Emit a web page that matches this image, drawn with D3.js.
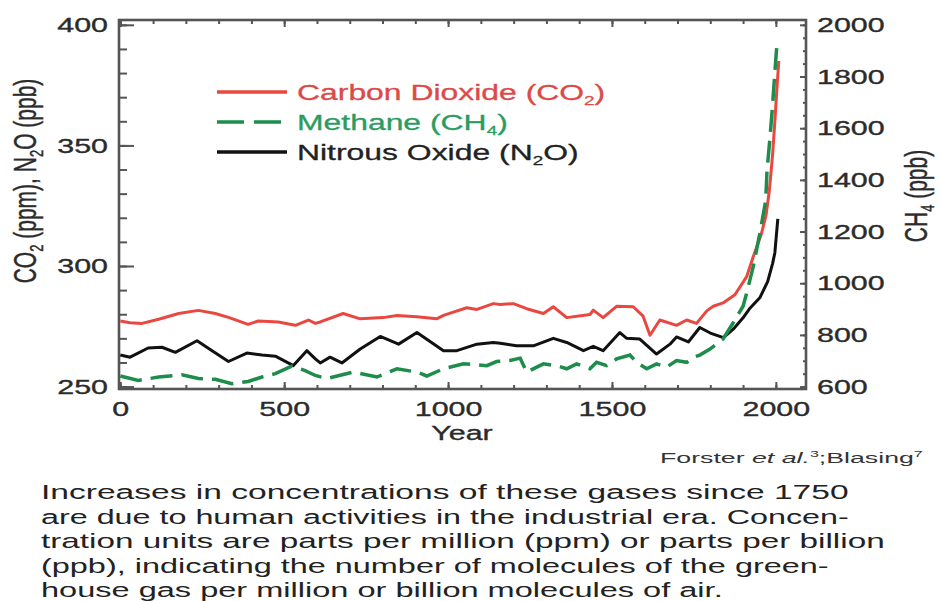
<!DOCTYPE html>
<html><head><meta charset="utf-8">
<script src="https://cdn.jsdelivr.net/npm/d3@7"></script>
<style>
body{margin:0;background:#fff}
svg{display:block}
text{font-family:"Liberation Sans",Arial,Helvetica,sans-serif}
</style>
</head><body>
<svg id="c" width="940" height="601"></svg>
<script>
// ---------------- data ----------------
const co2Years = [0,30,66,117,178,238,290,330,390,421,482,534,574,595,610,680,732,802,844,905,965,986,1016,1057,1088,1138,1159,1199,1240,1291,1321,1362,1433,1443,1473,1514,1565,1595,1616,1646,1697,1728,1758,1790,1809,1839,1875,1911,1931,1956,1970,1980,1990,1997,2003,2009];
const co2Values = [277.2,276.5,276.2,277.9,280.3,281.6,280.3,278.7,275.8,277.2,276.8,275.4,277.6,276.2,276.8,280.3,278.1,278.6,279.5,279.0,278.1,279.5,280.9,282.7,282.0,284.4,284.0,284.4,282.3,280.3,283.1,278.6,279.9,281.7,278.6,283.3,283.1,279.2,271.3,277.6,275.4,277.6,276.2,281.5,283.3,284.7,288.1,295.6,303.8,313.4,321,331,346,360,373,385];

const n2oYears = [0,30,85,127,168,234,280,330,386,432,473,528,569,595,610,640,676,732,793,849,905,986,1027,1088,1138,1159,1209,1260,1321,1362,1413,1443,1473,1524,1545,1585,1636,1677,1697,1733,1768,1800,1840,1870,1900,1921,1951,1975,1990,1997,2006];
const n2oValues = [263.1,262.2,266.0,266.3,264.2,269.0,264.9,260.4,263.9,263.1,262.6,258.7,264.9,261.5,259.8,262.2,259.8,265.6,270.8,267.6,272.4,264.9,264.9,267.6,268.3,268.0,266.9,266.9,270.0,268.3,264.9,266.7,264.9,272.4,270.0,269.7,263.5,267.6,270.6,268.5,274.5,272.2,270.3,273.8,278.5,282.5,286.8,293.5,301,305.5,319.5];

const ch4Years = [0,55,117,188,238,290,340,390,432,473,523,564,595,630,711,783,844,905,935,986,1047,1118,1148,1189,1220,1240,1291,1331,1362,1392,1433,1453,1484,1514,1555,1575,1606,1636,1667,1697,1728,1748,1768,1799,1839,1870,1900,1911,1931,1951,1969,1973,1982,1990,1997,2004];
const ch4Values = [641,624,637,646,631,628,611,620,637,650,679,662,643,631,656,637,669,656,641,669,688,681,697,701,710,656,688,681,669,688,669,694,681,707,722,694,669,688,675,701,694,714,722,745,784,847,911,962,1064,1192,1319,1434,1561,1689,1816,1937];

const xTicks = [0,500,1000,1500,2000];
const leftTicks = [250,300,350,400];
const rightTicks = [600,800,1000,1200,1400,1600,1800,2000];

const legendParts = [
  ["Carbon Dioxide (CO","2",")"],
  ["Methane (CH","4",")"],
  ["Nitrous Oxide (N","2","O)"]
];
const xTitle = "Year";
const leftTitleParts = ["CO","2"," (ppm), N","2","O (ppb)"];
const rightTitleParts = ["CH","4"," (ppb)"];
const citationParts = ["Forster ","et al.","3",";Blasing","7"];
const captionLines = [
  "Increases in concentrations of these gases since 1750",
  "are due to human activities in the industrial era. Concen-",
  "tration units are parts per million (ppm) or parts per billion",
  "(ppb), indicating the number of molecules of the green-",
  "house gas per million or billion molecules of air."
];

// ---------------- layout ----------------
const SX = 1.45;           // horizontal stretch of glyphs in reference
const axisColor = "#555";
const textColor = "#2b2b2b";
const colCO2 = "#e8483f", colCH4 = "#1e8c4b", colN2O = "#111";

const svg = d3.select("#c");
const L = 119, R = 806, T = 20, B = 389;

const x = d3.scaleLinear().domain([-4, 2092]).range([L, R]);
const yL = d3.scaleLinear().domain([249, 402]).range([B, T]);
const yR = d3.scaleLinear().domain([600 - 1400/150, 2000 + 2*1400/150]).range([B, T]);

function stretch(sel, sx){
  sel.each(function(){
    const t = d3.select(this);
    const tx = +t.attr("x") || 0, ty = +t.attr("y") || 0;
    t.attr("x", 0).attr("y", 0).attr("transform", `translate(${tx},${ty}) scale(${sx},1)`);
  });
}
function styleAxis(g){
  g.select(".domain").remove();
  g.selectAll(".tick line").attr("stroke", axisColor).attr("stroke-width", 2);
  g.selectAll(".tick text").attr("fill", textColor).attr("font-size", 21)
    .attr("stroke", textColor).attr("stroke-width", 0.35);
}

// minor ticks
const minorX = d3.range(0, 2100, 100);
const minorL = d3.range(250, 401, 10);
const minorR = d3.range(600, 2001, 50);

svg.append("g").attr("transform", `translate(0,${B})`)
  .call(d3.axisBottom(x).tickValues(minorX).tickSize(-4).tickFormat("")).call(styleAxis);
svg.append("g").attr("transform", `translate(0,${T})`)
  .call(d3.axisTop(x).tickValues(minorX).tickSize(-4).tickFormat("")).call(styleAxis);
svg.append("g").attr("transform", `translate(${L},0)`)
  .call(d3.axisLeft(yL).tickValues(minorL).tickSize(-8).tickFormat("")).call(styleAxis);
svg.append("g").attr("transform", `translate(${R},0)`)
  .call(d3.axisRight(yR).tickValues(minorR).tickSize(-3).tickFormat("")).call(styleAxis);

// major ticks + labels
const gxB = svg.append("g").attr("transform", `translate(0,${B})`)
  .call(d3.axisBottom(x).tickValues(xTicks).tickSize(-7).tickPadding(12).tickFormat(d3.format("d"))).call(styleAxis);
stretch(gxB.selectAll(".tick text"), SX);
svg.append("g").attr("transform", `translate(0,${T})`)
  .call(d3.axisTop(x).tickValues(xTicks).tickSize(-7).tickFormat("")).call(styleAxis);
const gyL = svg.append("g").attr("transform", `translate(${L},0)`)
  .call(d3.axisLeft(yL).tickValues(leftTicks).tickSize(-15).tickPadding(11).tickFormat(d3.format("d"))).call(styleAxis);
stretch(gyL.selectAll(".tick text"), SX);
const gyR = svg.append("g").attr("transform", `translate(${R},0)`)
  .call(d3.axisRight(yR).tickValues(rightTicks).tickSize(-6).tickPadding(11).tickFormat(d3.format("d"))).call(styleAxis);
stretch(gyR.selectAll(".tick text"), SX);

// frame
svg.append("rect").attr("x", L).attr("y", T).attr("width", R - L).attr("height", B - T)
  .attr("fill", "none").attr("stroke", axisColor).attr("stroke-width", 2.6);

// series
const lineL = d3.line().x(d => x(d[0])).y(d => yL(d[1]));
const lineR = d3.line().x(d => x(d[0])).y(d => yR(d[1]));
svg.append("path").datum(d3.zip(n2oYears, n2oValues)).attr("d", lineL)
  .attr("fill", "none").attr("stroke", colN2O).attr("stroke-width", 3).attr("stroke-linejoin", "round");
svg.append("path").datum(d3.zip(co2Years, co2Values)).attr("d", lineL)
  .attr("fill", "none").attr("stroke", colCO2).attr("stroke-width", 3).attr("stroke-linejoin", "round");
svg.append("path").datum(d3.zip(ch4Years, ch4Values)).attr("d", lineR)
  .attr("fill", "none").attr("stroke", colCH4).attr("stroke-width", 3.5).attr("stroke-dasharray", "22,9");

// legend
const legColors = [colCO2, colCH4, colN2O];
const legText = ["#dc4a48", "#2b9c60", "#222"];
const legDash = [null, "27,10", null];
legendParts.forEach((p, i) => {
  const ly = 92 + i * 30;
  svg.append("line").attr("x1", 217).attr("x2", 287).attr("y1", ly).attr("y2", ly)
    .attr("stroke", legColors[i]).attr("stroke-width", 3.5).attr("stroke-dasharray", legDash[i]);
  const t = svg.append("text").attr("x", 297).attr("y", ly + 8).attr("font-size", 22).attr("fill", legText[i])
    .attr("stroke", legText[i]).attr("stroke-width", 0.3);
  t.append("tspan").text(p[0]);
  t.append("tspan").attr("font-size", 13).attr("dy", 5).text(p[1]);
  t.append("tspan").attr("dy", -5).text(p[2]);
  stretch(t, SX);
});

// axis titles
const xt = svg.append("text").attr("x", 462).attr("y", 440).attr("text-anchor", "middle")
  .attr("font-size", 21).attr("fill", textColor).attr("stroke", textColor).attr("stroke-width", 0.35).text(xTitle);
stretch(xt, SX);

function rotTitle(parts, cx, cy){
  const t = svg.append("text").attr("text-anchor", "middle").attr("font-size", 21).attr("fill", textColor)
    .attr("stroke", textColor).attr("stroke-width", 0.3)
    .attr("transform", `translate(${cx},${cy}) scale(${SX},1) rotate(-90)`);
  parts.forEach((s, i) => {
    const sp = t.append("tspan").text(s);
    if (i % 2 === 1) sp.attr("font-size", 13).attr("dy", 5);
    else if (i > 0) sp.attr("dy", -5);
  });
}
rotTitle(leftTitleParts, 36, 181);
rotTitle(rightTitleParts, 927, 196);

// citation
function fitText(t, x0, w){
  const bw = t.node().getComputedTextLength();
  t.attr("x", 0).attr("transform", `translate(${x0},${+t.attr("y")}) scale(${w / bw},1)`).attr("y", 0);
}
const cit = svg.append("text").attr("y", 463).attr("font-size", 15).attr("fill", "#333");
cit.append("tspan").text(citationParts[0]);
cit.append("tspan").attr("font-style", "italic").text(citationParts[1]);
cit.append("tspan").attr("font-size", 9).attr("dy", -6).text(citationParts[2]);
cit.append("tspan").attr("dy", 6).text(citationParts[3]);
cit.append("tspan").attr("font-size", 9).attr("dy", -6).text(citationParts[4]);
fitText(cit, 660, 263);

// caption
const capWidths = [808, 808, 844, 788, 682];
captionLines.forEach((s, i) => {
  const t = svg.append("text").attr("y", 499 + i * 24.5).attr("font-size", 21).attr("fill", "#222").text(s);
  fitText(t, 41, capWidths[i]);
});
</script>
</body></html>
